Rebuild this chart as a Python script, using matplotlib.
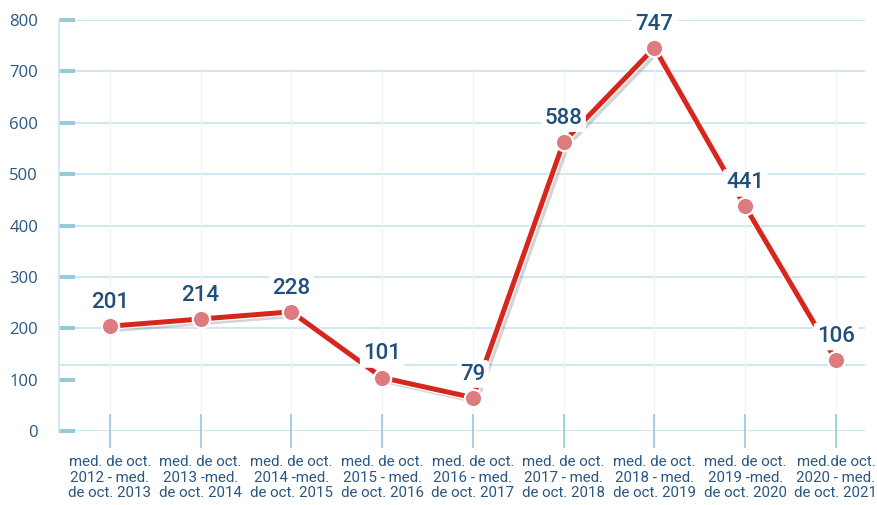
import matplotlib.pyplot as plt
import matplotlib.patheffects as pe

# Periodos (eje x)
periodos = [
    "med. de oct.\n2012 - med.\nde oct. 2013",
    "med. de oct.\n2013 -med.\nde oct. 2014",
    "med. de oct.\n2014 -med.\nde oct. 2015",
    "med. de oct.\n2015 - med.\nde oct. 2016",
    "med. de oct.\n2016 - med.\nde oct. 2017",
    "med. de oct.\n2017 - med.\nde oct. 2018",
    "med. de oct.\n2018 - med.\nde oct. 2019",
    "med. de oct.\n2019 -med.\nde oct. 2020",
    "med.de oct.\n2020 - med.\nde oct. 2021",
]
# posicion de los puntos tal como aparecen en el grafico
valores = [204, 218, 232, 104, 65, 563, 746, 437, 138]
# etiquetas mostradas sobre cada punto
etiquetas = [201, 214, 228, 101, 79, 588, 747, 441, 106]
yticks = [0, 100, 200, 300, 400, 500, 600, 700, 800]
# lineas horizontales de fondo (la de 100 aparece desplazada en el original)
lineas_fondo = [0, 128, 200, 300, 400, 500, 600, 700, 800]

AZUL_TEXTO = '#285783'
AZUL_CLARO = '#cde5ee'
ROJO = '#d7261e'
ROSA = '#de7b7f'

fig = plt.figure(figsize=(8.78, 5.05), dpi=100)
ax = fig.add_axes([0.0672, 0.1465, 0.918, 0.8139])

x = list(range(len(valores)))

# rejilla
for y in lineas_fondo:
    ax.axhline(y, color=AZUL_CLARO, lw=1.3, zorder=0)
for xi in x:
    ax.axvline(xi, ymin=0, ymax=700 / 800, color='#edf5f8', lw=1.0, zorder=0)

# linea con sombra y borde blanco
ax.plot(x, valores, color=ROJO, lw=3.6, zorder=3, solid_capstyle='butt',
        path_effects=[pe.SimpleLineShadow(offset=(2.5, -2.5), shadow_color='#555555', alpha=0.25),
                      pe.Stroke(linewidth=5.4, foreground='white'),
                      pe.Normal()])
ax.plot(x, valores, ls='none', marker='o', ms=12.5, mfc=ROSA, mec='white', mew=1.6, zorder=4)

# etiquetas de valores
for xi, v, lab in zip(x, valores, etiquetas):
    ax.annotate(str(lab), (xi, v), xytext=(0, 17), textcoords='offset points',
                ha='center', va='center', fontsize=16, color='#1f4f7a',
                family='Roboto', fontweight='medium', zorder=5,
                bbox=dict(boxstyle='round,pad=0.15', fc='white', ec='none'))

ax.set_xlim(-0.56, 8.32)
ax.set_ylim(0, 800)
ax.set_yticks(yticks)
ax.set_yticklabels([str(t) for t in yticks], fontsize=12, color=AZUL_TEXTO, family='Open Sans')
ax.set_xticks(x)
ax.set_xticklabels(periodos, fontsize=10.8, color=AZUL_TEXTO, family='Roboto', linespacing=1.12)

ax.tick_params(axis='y', direction='in', length=11.5, width=2.8, color='#93c9d8', pad=15)
ax.tick_params(axis='x', direction='inout', length=25, width=1.3, color='#9ccfdd', pad=5)

for s in ['top', 'right', 'bottom']:
    ax.spines[s].set_visible(False)
ax.spines['left'].set_color(AZUL_CLARO)
ax.spines['left'].set_linewidth(1.2)

fig.savefig('out.png', dpi=100)
